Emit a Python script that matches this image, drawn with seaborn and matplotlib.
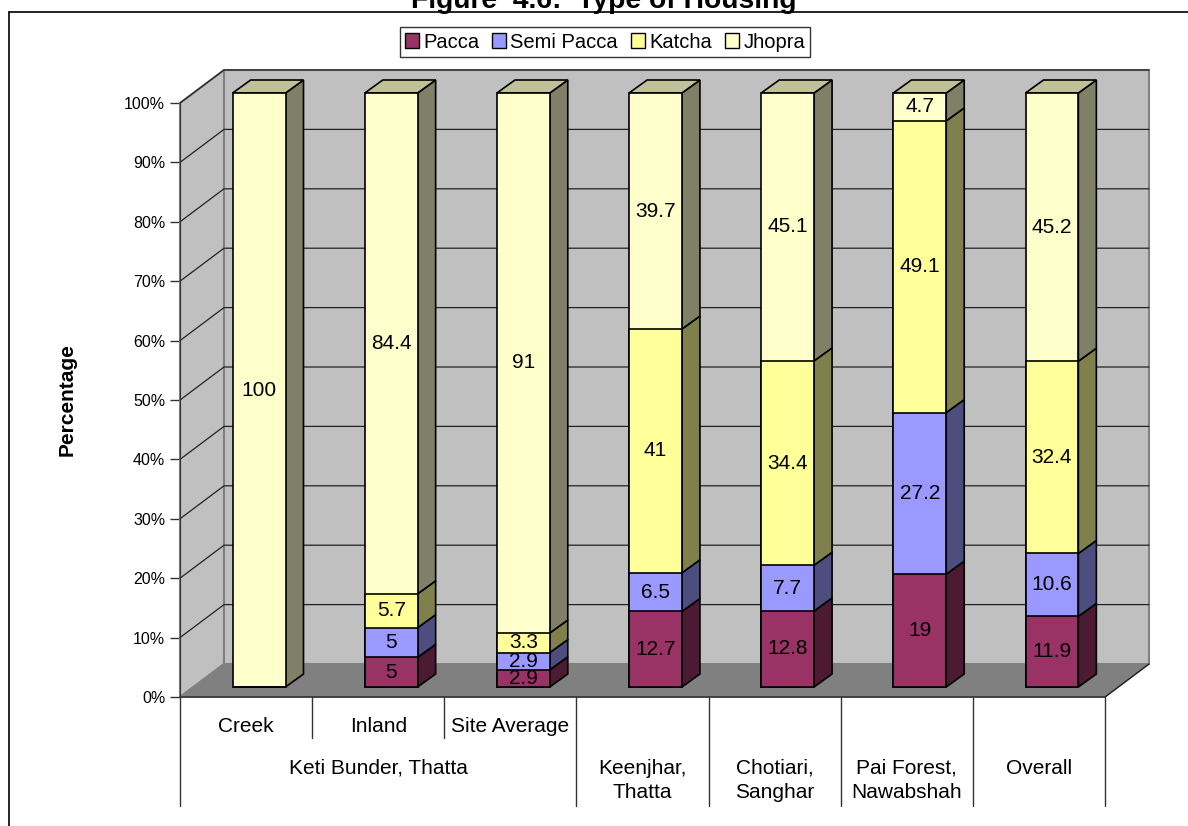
import numpy as np
import pandas as pd
import matplotlib
matplotlib.use("Agg")
import matplotlib.pyplot as plt
from matplotlib.patches import Polygon, Patch
from matplotlib.lines import Line2D
from matplotlib.transforms import ScaledTranslation
import seaborn as sns

# ---- data ----
sites = ["Creek", "Inland", "Site Average", "Keenjhar,\nThatta",
         "Chotiari,\nSanghar", "Pai Forest,\nNawabshah", "Overall"]
series = ["Pacca", "Semi Pacca", "Katcha", "Jhopra"]
pacca = [0, 5, 2.9, 12.7, 12.8, 19, 11.9]
semi_pacca = [0, 5, 2.9, 6.5, 7.7, 27.2, 10.6]
katcha = [0, 5.7, 3.3, 41, 34.4, 49.1, 32.4]
jhopra = [100, 84.4, 91, 39.7, 45.1, 4.7, 45.2]
group_label = "Keti Bunder, Thatta"
y_ticks = [0, 10, 20, 30, 40, 50, 60, 70, 80, 90, 100]

front_colors = ["#993366", "#9999FF", "#FFFF99", "#FFFFCC"]
side_colors = ["#4D1A33", "#4D4D80", "#80804D", "#808066"]
top_colors = ["#732649", "#7373BF", "#BFBF73", "#C0C099"]

values = np.array([pacca, semi_pacca, katcha, jhopra], dtype=float)
shares = values / values.sum(axis=0) * 100  # 100% stacked
cum_top = np.cumsum(shares, axis=0)
cum_bot = cum_top - shares

sns.set_style("white")
plt.rcParams["font.family"] = ["Liberation Sans", "DejaVu Sans"]
plt.rcParams["text.color"] = "black"
plt.rcParams["axes.labelcolor"] = "black"

W, H = 1188, 826
fig = plt.figure(figsize=(W / 100, H / 100), dpi=100)
ax = fig.add_axes([0, 0, 1, 1])
ax.set_facecolor("none")

# pixel scale of the category / percentage axes
SX = 925 / 7.0
SY = 594 / 100.0
DX, DY = 44 / SX, 33 / SY          # depth of the plot box
BX, BY = 18 / SX, 13 / SY          # depth of each bar
n = len(sites)
x0, x1 = -0.5, n - 0.5

# ---- stacked front faces, drawn tallest first ----
bar_offset = ScaledTranslation(13 / 100, 10 / 100, fig.dpi_scale_trans)
for k in range(len(series) - 1, -1, -1):
    df = pd.DataFrame({"site": sites, "pct": cum_top[k]})
    before = len(ax.patches)
    sns.barplot(data=df, x="site", y="pct", order=sites, color=front_colors[k],
                saturation=1, width=0.4, edgecolor="black", linewidth=1.2,
                ax=ax, errorbar=None)
    for p in ax.patches[before:]:
        p.set_transform(ax.transData + bar_offset)
        p.set_zorder(5)

ax.set_xlim(x0 - 180 / SX, x0 + (W - 180) / SX)
ax.set_ylim(-(H - 697) / SY, 100 + 103 / SY)
ax.set_xlabel("")

# ---- walls, floor and gridlines ----
wall_kw = dict(edgecolor="#808080", linewidth=1.5, zorder=1)
ax.add_patch(Polygon([(x0, 0), (x0 + DX, DY), (x0 + DX, 100 + DY), (x0, 100)],
                     facecolor="#C0C0C0", **wall_kw))
ax.add_patch(Polygon([(x0 + DX, DY), (x1 + DX, DY), (x1 + DX, 100 + DY), (x0 + DX, 100 + DY)],
                     facecolor="#C0C0C0", **wall_kw))
ax.add_patch(Polygon([(x0, 0), (x1, 0), (x1 + DX, DY), (x0 + DX, DY)],
                     facecolor="#808080", edgecolor="#808080", linewidth=1, zorder=1.5))
for t in y_ticks[1:]:
    ax.plot([x0, x0 + DX, x1 + DX], [t, t + DY, t + DY], color="#222222",
            linewidth=0.9, zorder=2)
ax.plot([x0, x1, x1 + DX], [0, 0, DY], color="#222222", linewidth=1, zorder=2)

# ---- side and top faces of the bars ----
tr = ax.transData + bar_offset
for i in range(n):
    xl, xr = i - 0.2, i + 0.2
    for k in range(len(series)):
        b, t = cum_bot[k, i], cum_top[k, i]
        if t - b <= 0:
            continue
        ax.add_patch(Polygon([(xr, b), (xr + BX, b + BY), (xr + BX, t + BY), (xr, t)],
                             facecolor=side_colors[k], edgecolor="black",
                             linewidth=1.2, transform=tr, zorder=4))
    k_top = max(k for k in range(len(series)) if shares[k, i] > 0)
    top = cum_top[k_top, i]
    ax.add_patch(Polygon([(xl, top), (xr, top), (xr + BX, top + BY), (xl + BX, top + BY)],
                         facecolor=top_colors[k_top], edgecolor="black",
                         linewidth=1.2, transform=tr, zorder=4))
    # value labels
    for k in range(len(series)):
        if values[k, i] <= 0:
            continue
        ax.text(i, (cum_bot[k, i] + cum_top[k, i]) / 2, f"{values[k, i]:g}",
                transform=tr, ha="center", va="center", fontsize=15,
                color="black", zorder=6)

# ---- value axis ----
ax.set_xticks([])
for s in ["top", "right", "bottom"]:
    ax.spines[s].set_visible(False)
ax.spines["left"].set_position(("data", x0))
ax.spines["left"].set_bounds(0, 100)
ax.spines["left"].set_color("#333333")
ax.spines["left"].set_zorder(3)
ax.set_yticks(y_ticks)
ax.set_yticklabels([f"{t}%" for t in y_ticks])
ax.tick_params(axis="y", direction="out", length=7.2, width=1, color="#333333",
               pad=3.5, labelsize=11.5, labelcolor="black", left=True)
ax.set_ylabel("Percentage", fontsize=15, fontweight="bold")
ax.yaxis.set_label_coords(x0 - (180 - 77) / SX, 50, transform=ax.transData)

# ---- category table under the floor ----
row1 = -(726 - 697) / SY
row1_end = -(738 - 697) / SY
row2_first = -(768 - 697) / SY
row2_second = -(793 - 697) / SY
tab_end = -(806 - 697) / SY
line_kw = dict(color="#333333", linewidth=1, zorder=2, clip_on=False)
for xv in [x0, 2.5, 3.5, 4.5, 5.5, x1]:
    ax.plot([xv, xv], [0, tab_end], **line_kw)
for xv in [0.5, 1.5]:
    ax.plot([xv, xv], [0, row1_end], **line_kw)
for i in range(3):
    ax.text(i, row1, sites[i], ha="center", va="center", fontsize=15)
ax.text(1, row2_first, group_label, ha="center", va="center", fontsize=15)
for i in range(3, n):
    for j, line in enumerate(sites[i].split("\n")):
        ax.text(i, [row2_first, row2_second][j], line, ha="center", va="center",
                fontsize=15)

# ---- legend ----
handles = [Patch(facecolor=c, edgecolor="black", linewidth=1) for c in front_colors]
leg = fig.legend(handles, series, loc="center", ncol=4,
                 bbox_to_anchor=(605 / W, 1 - 42 / H), frameon=True, fancybox=False,
                 edgecolor="black", fontsize=14.5, handlelength=0.7,
                 handleheight=0.7, handletextpad=0.2, columnspacing=0.65,
                 borderpad=0.25, borderaxespad=0)
leg.get_frame().set_linewidth(1)

# ---- title and outer frame ----
fig.text(604 / W, 1 - 8 / H, "Figure  4.6:  Type of Housing", ha="center",
         va="baseline", fontsize=20.3, fontweight="bold")
fig.add_artist(Line2D([9 / W, 1], [1 - 12 / H] * 2, transform=fig.transFigure,
                      color="black", linewidth=1.2))
fig.add_artist(Line2D([9 / W] * 2, [0, 1 - 12 / H], transform=fig.transFigure,
                      color="black", linewidth=1.2))

fig.savefig("out.png", dpi=100)
